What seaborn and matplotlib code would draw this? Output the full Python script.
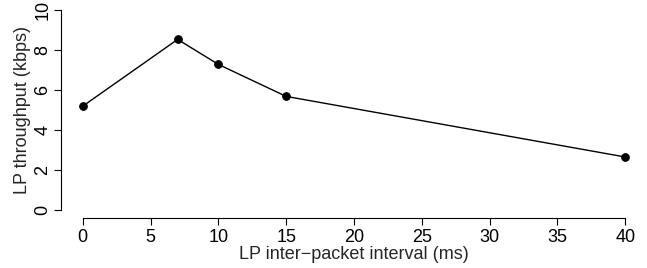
import matplotlib
matplotlib.use("Agg")
import matplotlib.pyplot as plt
import seaborn as sns
import pandas as pd

interval_ms = [0, 7, 10, 15, 40]
throughput_kbps = [5.19, 8.53, 7.28, 5.68, 2.65]
x_ticks = [0, 5, 10, 15, 20, 25, 30, 35, 40]
y_ticks = [0, 2, 4, 6, 8, 10]

sns.set_style("ticks")
plt.rcParams['font.family'] = ['Liberation Sans', 'DejaVu Sans']

df = pd.DataFrame({"x": interval_ms, "y": throughput_kbps})

fig = plt.figure(figsize=(6.47, 2.68), dpi=100)
ax = fig.add_axes([61/647, 1 - 218/268, 1 - 61/647, 216/268])
sns.lineplot(data=df, x="x", y="y", ax=ax, color="black", linewidth=1.0,
             marker="o", markersize=5.5, markeredgecolor="black",
             markerfacecolor="black")

ax.set_xlim(-1.6, 41.6)
ax.set_ylim(-0.4, 10.4)
ax.set_xticks(x_ticks)
ax.set_yticks(y_ticks)
ax.set_yticklabels([str(v) for v in y_ticks], rotation=90, va="center")
ax.spines['left'].set_bounds(0, 10)
ax.spines['bottom'].set_bounds(0, 40)
ax.spines['top'].set_visible(False)
ax.spines['right'].set_visible(False)
for s in ['left', 'bottom']:
    ax.spines[s].set_linewidth(0.8)
    ax.spines[s].set_color("black")
ax.tick_params(axis='both', direction='out', length=5, width=0.8,
               labelsize=13, colors="black")
ax.tick_params(axis='x', pad=3)
ax.tick_params(axis='y', pad=2)
ax.set_xlabel("LP inter\u2212packet interval (ms)", fontsize=13, labelpad=0)
ax.set_ylabel("LP throughput (kbps)", fontsize=13, labelpad=2)

fig.savefig("out.png", dpi=100)
